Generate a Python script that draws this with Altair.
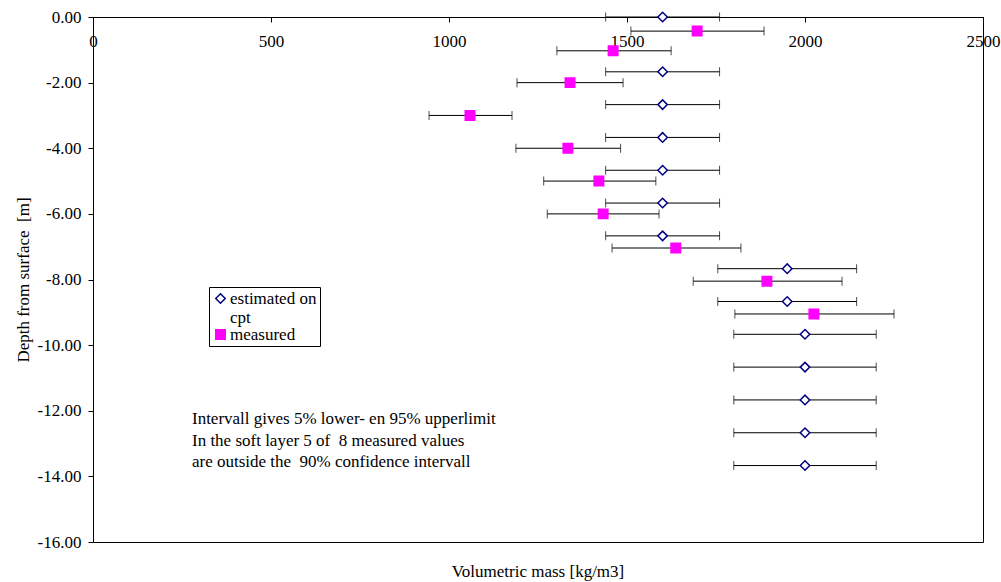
import altair as alt
import pandas as pd

# Estimated on CPT: depth [m], volumetric mass and 5% / 95% limits [kg/m3]
est_depth = [0.0, -1.67, -2.67, -3.67, -4.67, -5.67, -6.67, -7.67, -8.67,
             -9.67, -10.67, -11.67, -12.67, -13.67]
est_mass = [1600, 1600, 1600, 1600, 1600, 1600, 1600, 1950, 1950,
            2000, 2000, 2000, 2000, 2000]
est_lo = [1440, 1440, 1440, 1440, 1440, 1440, 1440, 1755, 1755,
          1800, 1800, 1800, 1800, 1800]
est_hi = [1760, 1760, 1760, 1760, 1760, 1760, 1760, 2145, 2145,
          2200, 2200, 2200, 2200, 2200]

# Measured samples
meas_depth = [-0.43, -1.03, -2.0, -3.0, -4.0, -5.0, -6.0, -7.04, -8.05, -9.05]
meas_mass = [1697, 1461, 1340, 1059, 1334, 1421, 1433, 1637, 1893, 2025]
meas_lo = [1511, 1303, 1191, 944, 1188, 1266, 1276, 1458, 1686, 1803]
meas_hi = [1885, 1624, 1489, 1177, 1482, 1581, 1590, 1820, 2104, 2250]

series_names = ["estimated on cpt", "measured"]
x_ticks = [0, 500, 1000, 1500, 2000, 2500]
y_ticks = [0, -2, -4, -6, -8, -10, -12, -14, -16]

NBSP = "\u00a0"
note_lines = [
    "Intervall gives 5% lower- en 95% upperlimit",
    "In the soft layer 5 of " + NBSP + "8 measured values",
    "are outside the " + NBSP + "90% confidence intervall",
]

FONT = "Liberation Serif"
FS = 17
W, H = 890, 525

df = pd.concat([
    pd.DataFrame({"series": series_names[0], "depth": est_depth,
                  "mass": est_mass, "lo": est_lo, "hi": est_hi}),
    pd.DataFrame({"series": series_names[1], "depth": meas_depth,
                  "mass": meas_mass, "lo": meas_lo, "hi": meas_hi}),
], ignore_index=True)

xscale = alt.Scale(domain=[0, 2500], nice=False, zero=False)
yscale = alt.Scale(domain=[-16, 0], nice=False, zero=False)

# x axis sits on the top edge (depth 0), ticks and labels pointing inward
xaxis = alt.Axis(orient="bottom", offset=-H, values=x_ticks, format="d",
                 tickSize=5, labelPadding=11, labelFlush=False,
                 labelOverlap=False, grid=False, title=None)
# depth labels with a plain hyphen as minus sign
yaxis = alt.Axis(values=y_ticks, tickSize=5, labelPadding=7,
                 labelExpr="(datum.value < 0 ? '-' : '') + format(abs(datum.value), '.2f')",
                 grid=False, labelOverlap=False,
                 title="Depth from surface " + NBSP + "[m]", titlePadding=5)

base = alt.Chart(df)

bars = base.mark_rule(color="black", strokeWidth=1).encode(
    x=alt.X("lo:Q", scale=xscale, axis=xaxis),
    x2="hi:Q",
    y=alt.Y("depth:Q", scale=yscale, axis=yaxis),
)
cap_lo = base.mark_tick(orient="vertical", size=9, thickness=1, color="black").encode(
    x=alt.X("lo:Q", scale=xscale), y=alt.Y("depth:Q", scale=yscale))
cap_hi = base.mark_tick(orient="vertical", size=9, thickness=1, color="black").encode(
    x=alt.X("hi:Q", scale=xscale), y=alt.Y("depth:Q", scale=yscale))

legend = alt.Legend(
    orient="none", legendX=116, legendY=270, title=None,
    strokeColor="black", fillColor="white", padding=3,
    labelFont=FONT, labelFontSize=FS, labelColor="black", labelOffset=1,
    symbolSize=90, symbolStrokeWidth=1.5, rowPadding=-8,
    labelExpr="datum.label == 'estimated on cpt' ? ['estimated on', 'cpt'] : datum.label",
)

points = base.mark_point(filled=False, size=90, strokeWidth=1.5, opacity=1).encode(
    x=alt.X("mass:Q", scale=xscale),
    y=alt.Y("depth:Q", scale=yscale),
    shape=alt.Shape("series:N", scale=alt.Scale(domain=series_names,
                    range=["diamond", "square"]), legend=legend),
    color=alt.Color("series:N", scale=alt.Scale(domain=series_names,
                    range=["#000080", "#FF00FF"]), legend=legend),
    fill=alt.Fill("series:N", scale=alt.Scale(domain=series_names,
                  range=["white", "#FF00FF"]), legend=legend),
)

note = alt.Chart(pd.DataFrame({"x": [278], "y": [-12.41], "t": [note_lines]})).mark_text(
    align="left", baseline="alphabetic", font=FONT, fontSize=FS,
    lineHeight=21.5, color="black",
).encode(x=alt.X("x:Q", scale=xscale), y=alt.Y("y:Q", scale=yscale), text="t")

chart = alt.layer(bars, cap_lo, cap_hi, points, note).properties(
    width=W, height=H,
    autosize=alt.AutoSizeParams(type="none"),
    padding={"left": 93, "top": 17, "right": 18, "bottom": 40},
    title=alt.TitleParams("Volumetric mass [kg/m3]", orient="bottom",
                          frame="group", offset=14, font=FONT, fontSize=FS,
                          fontWeight="normal", color="black"),
).configure(background="white").configure_view(
    stroke="black", strokeWidth=1,
).configure_axis(
    labelFont=FONT, labelFontSize=FS, labelColor="black",
    titleFont=FONT, titleFontSize=FS, titleFontWeight="normal", titleColor="black",
    domainColor="black", tickColor="black",
)

chart.save("out.html", embed_options={"renderer": "svg", "actions": False})
